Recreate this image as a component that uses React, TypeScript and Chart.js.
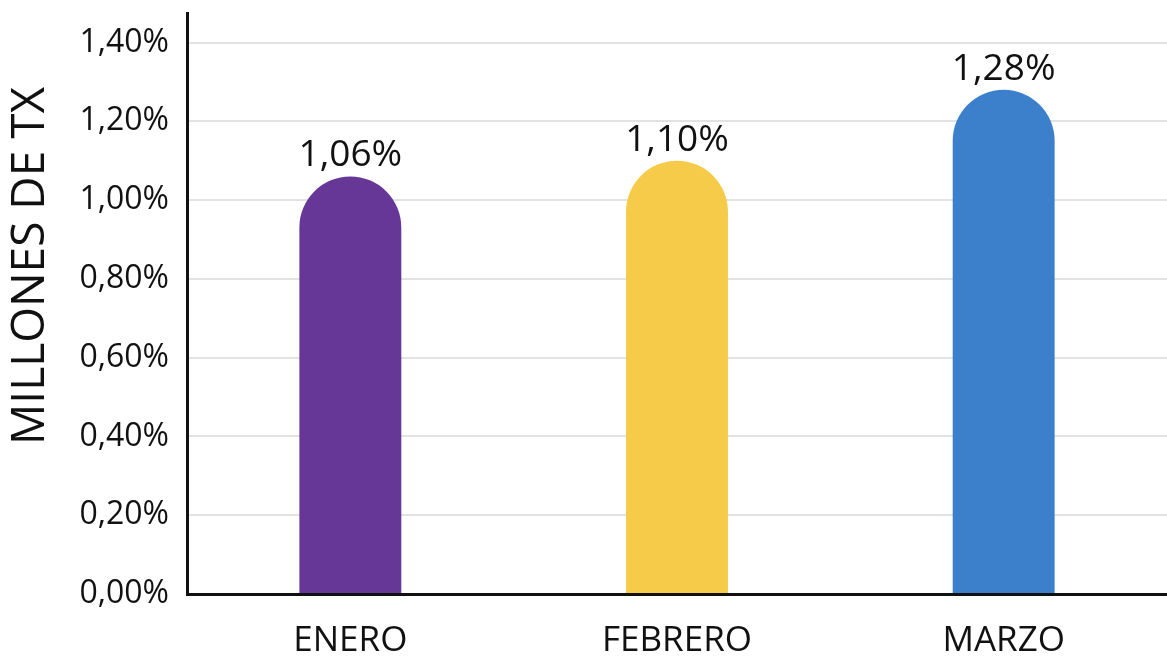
import React, { useEffect, useRef } from "react";
import { Chart, registerables } from "chart.js";

Chart.register(...registerables);

const categories = ["ENERO", "FEBRERO", "MARZO"];
const values = [1.06, 1.1, 1.28];
const barColors = ["#663797", "#F6CB49", "#3C80CB"];
const yTitle = "MILLONES DE TX";
const yMin = 0;
const yMax = 1.475;
const yTickValues = [0, 0.2, 0.4, 0.6, 0.8, 1.0, 1.2, 1.4];

const FONT = "'Open Sans', 'Noto Sans', sans-serif";

const fmt = (v: number) => v.toFixed(2).replace(".", ",") + "%";

const labelsPlugin = {
  id: "customLabels",
  afterDatasetsDraw(chart: any) {
    const ctx = chart.ctx;
    const meta = chart.getDatasetMeta(0);
    ctx.save();
    ctx.font = `37px ${FONT}`;
    ctx.fillStyle = "#111111";
    ctx.textAlign = "center";
    ctx.textBaseline = "alphabetic";
    meta.data.forEach((bar: any, i: number) => {
      ctx.fillText(fmt(values[i]), bar.x, bar.y - 10);
    });
    ctx.restore();
    // y title
    ctx.save();
    ctx.font = `46px ${FONT}`;
    ctx.fillStyle = "#111111";
    ctx.textAlign = "center";
    ctx.textBaseline = "middle";
    ctx.translate(31, 266);
    ctx.rotate(-Math.PI / 2);
    ctx.fillText(yTitle, 0, 0);
    ctx.restore();
  },
};

export default function App() {
  const ref = useRef<HTMLCanvasElement | null>(null);
  useEffect(() => {
    document.body.style.margin = "0";
    const canvas = ref.current!;
    const chart = new Chart(canvas, {
      type: "bar",
      data: {
        labels: categories,
        datasets: [
          {
            data: values,
            backgroundColor: barColors,
            borderRadius: { topLeft: 60, topRight: 60, bottomLeft: 0, bottomRight: 0 },
            borderSkipped: false,
            barPercentage: 1,
            categoryPercentage: 0.312,
          },
        ],
      },
      options: {
        responsive: false,
        animation: false,
        layout: { padding: { top: 13, right: 0, left: 0, bottom: 0 } },
        plugins: { legend: { display: false }, tooltip: { enabled: false } },
        scales: {
          x: {
            grid: { display: true, color: "rgba(0,0,0,0)", drawTicks: false },
            border: { display: true, color: "#111111", width: 3 },
            ticks: {
              color: "#111111",
              font: { family: FONT, size: 35 },
              padding: 26,
            },
            afterFit: (s: any) => {
              s.height = 64;
              s.paddingLeft = 0;
              s.paddingRight = 0;
            },
          },
          y: {
            min: yMin,
            max: yMax,
            grid: { color: "#e2e2e2", lineWidth: 2, drawTicks: false },
            border: { display: true, color: "#111111", width: 3 },
            ticks: {
              color: "#111111",
              font: { family: FONT, size: 32 },
              padding: 18,
              callback: (v: any) => fmt(Number(v)),
            },
            afterBuildTicks: (s: any) => {
              s.ticks = yTickValues.map((v) => ({ value: v }));
            },
            afterFit: (s: any) => {
              s.width = 187;
              s.paddingTop = 0;
              s.paddingBottom = 0;
            },
          },
        },
      },
      plugins: [labelsPlugin],
    });
    return () => chart.destroy();
  }, []);
  return (
    <div style={{ position: "absolute", left: 0, top: 0, width: 1167, height: 658, background: "#fff" }}>
      <canvas ref={ref} width={1167} height={658} />
    </div>
  );
}
